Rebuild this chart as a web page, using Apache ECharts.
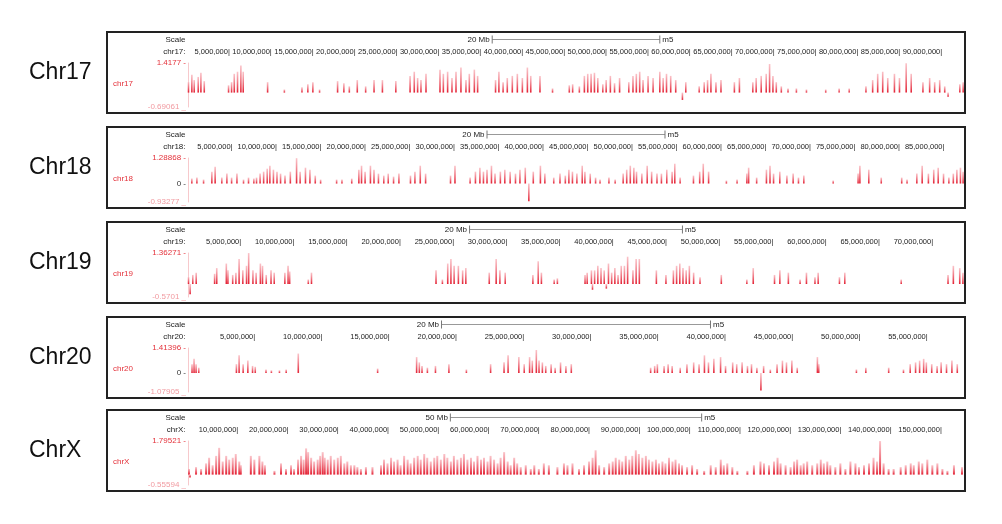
<!DOCTYPE html>
<html>
<head>
<meta charset="utf-8">
<script src="https://cdn.jsdelivr.net/npm/echarts@6/dist/echarts.min.js"></script>
<style>
html,body{margin:0;padding:0;background:#fff}
#main{width:1002px;height:524px}
</style>
</head>
<body>
<div id="main"></div>
<script>
// track meta
const chromNames = ['Chr17', 'Chr18', 'Chr19', 'Chr20', 'ChrX'];
const trackNames = ['chr17', 'chr18', 'chr19', 'chr20', 'chrX'];
const chromLenMb = [92.6, 87.2, 72.9, 57.7, 154.4];
const tickStepMb = [5, 5, 5, 5, 10];
const scaleBarMb = [20, 20, 20, 20, 50];
const yTop = [1.4177, 1.28868, 1.36271, 1.41396, 1.79521];
const yBottom = [-0.69061, -0.93277, -0.5701, -1.07905, -0.55594];
const showZero = [false, true, false, true, false];

// signal, position in Mb / value
const chr17Pos = [0.06,0.46,0.74,1.22,1.54,1.94,4.84,5.2,5.52,5.91,6.31,6.59,9.5,11.5,13.6,14.3,14.9,15.7,17.85,18.6,19.25,20.2,21.2,22.2,23.2,24.8,
  26.5,27.0,27.4,27.8,28.4,30.07,30.47,30.98,31.5,31.98,32.57,33.17,33.57,34.17,34.56,36.7,37.1,37.6,38.1,38.7,39.3,39.9,40.5,40.9,42.0,43.5,
  45.5,45.9,46.7,47.3,47.7,48.1,48.5,48.9,49.5,49.9,50.4,50.9,51.5,52.6,53.1,53.5,53.9,54.3,54.9,55.5,56.3,56.7,57.1,57.6,58.2,59.0,59.4,
  61.0,61.6,62.0,62.4,63.0,63.6,65.2,65.8,67.4,67.8,68.4,69.0,69.4,69.8,70.2,70.8,71.6,72.6,73.8,76.1,77.7,78.9,80.9,81.7,82.3,82.9,83.5,
  84.3,84.9,85.7,86.3,87.7,88.5,89.1,89.7,90.3,90.7,92.1,92.5];
const chr17Val = [0.5,0.85,0.6,0.75,0.95,0.55,0.35,0.5,0.9,1.0,1.3,1.0,0.5,0.15,0.25,0.4,0.5,0.15,0.55,0.45,0.3,0.6,0.3,0.6,0.6,0.55,
  0.8,1.0,0.7,0.6,0.9,1.1,0.9,1.0,0.7,1.0,1.2,0.6,0.9,1.1,0.8,0.6,1.0,0.5,0.7,0.8,0.9,0.7,1.2,0.8,0.8,0.2,
  0.35,0.4,0.3,0.8,0.9,0.9,0.95,0.7,0.4,0.6,0.8,0.45,0.7,0.5,0.8,0.9,1.0,0.6,0.8,0.7,1.0,0.7,0.9,0.8,0.6,-0.35,0.5,
  0.3,0.5,0.6,0.9,0.5,0.6,0.5,0.7,0.5,0.7,0.8,0.9,1.37,0.8,0.5,0.3,0.2,0.2,0.15,0.15,0.2,0.2,0.3,0.6,0.9,1.0,0.7,
  0.9,0.7,1.4,0.9,0.5,0.7,0.5,0.6,0.3,-0.2,0.4,0.5];

const chr18Pos = [0.43,1.0,1.75,2.68,3.05,3.8,4.37,4.9,5.5,6.24,6.8,7.4,7.7,8.1,8.5,8.9,9.2,9.6,10.0,10.4,10.9,11.5,12.2,12.6,13.2,13.7,14.3,14.9,
  16.7,17.3,18.4,19.2,19.5,19.9,20.5,20.9,21.4,22.0,22.5,23.1,23.7,25.0,25.5,26.1,26.7,29.5,30.0,31.7,32.3,32.8,33.2,33.6,34.1,34.5,35.1,35.6,
  36.2,36.8,37.3,37.9,38.3,38.8,39.6,40.1,41.1,41.8,42.4,42.8,43.2,43.7,44.3,44.6,45.2,45.8,46.3,47.3,48.0,48.9,49.3,49.7,50.1,50.4,51.0,51.6,
  52.1,52.7,53.2,53.8,54.4,54.7,55.3,56.8,57.5,57.9,58.5,60.5,61.7,62.8,63.0,63.9,65.0,65.4,65.8,66.5,67.3,68.0,68.6,69.2,72.5,75.3,75.5,76.5,
  77.9,80.2,80.8,81.9,82.5,83.2,83.8,84.3,84.9,85.5,86.0,86.4,86.8,87.1];
const chr18Val = [0.25,0.3,0.2,0.6,0.85,0.3,0.5,0.3,0.5,0.2,0.3,0.25,0.3,0.5,0.6,0.75,0.9,0.7,0.6,0.5,0.4,0.6,1.28,0.6,0.8,0.7,0.4,0.2,
  0.2,0.2,0.25,0.7,0.9,0.6,0.9,0.7,0.5,0.4,0.5,0.35,0.5,0.4,0.6,0.9,0.5,0.4,0.9,0.3,0.6,0.8,0.6,0.7,0.9,0.5,0.6,0.7,
  0.6,0.5,0.7,0.8,-0.9,0.6,0.9,0.5,0.3,0.5,0.4,0.7,0.6,0.5,0.9,0.6,0.5,0.3,0.2,0.3,0.2,0.5,0.7,0.9,0.8,0.6,0.5,0.9,
  0.6,0.5,0.5,0.7,0.6,1.0,0.3,0.4,0.6,1.0,0.6,0.15,0.2,0.5,0.8,0.3,0.7,0.9,0.5,0.6,0.4,0.5,0.3,0.4,0.15,0.5,0.9,0.7,
  0.3,0.3,0.2,0.5,0.9,0.5,0.7,0.8,0.5,0.3,0.5,0.7,0.8,0.6];

const chr19Pos = [0.05,0.2,0.45,0.77,2.5,2.7,3.6,3.75,4.2,4.5,4.8,5.15,5.5,5.7,6.1,6.4,6.8,7.0,7.35,7.8,8.1,9.1,9.4,9.55,11.3,11.6,
  23.3,23.9,24.4,24.7,25.0,25.4,25.8,26.1,28.3,28.95,29.3,29.8,32.4,32.9,33.2,34.4,34.7,37.3,37.5,37.9,38.0,38.2,38.5,38.8,39.1,39.3,39.5,
  39.8,40.1,40.4,40.7,41.0,41.3,41.8,42.1,42.4,44.0,44.9,45.6,45.9,46.2,46.5,46.8,47.1,47.5,48.1,50.1,52.5,53.1,55.1,55.6,56.4,57.5,58.1,
  58.9,59.2,61.2,61.7,67.0,71.4,71.9,72.5,72.8];
const chr19Val = [0.3,-0.45,0.4,0.5,0.45,0.7,0.9,0.6,0.4,0.5,1.1,0.6,0.8,1.36,0.6,0.5,0.9,0.8,0.4,0.6,0.5,0.5,0.8,0.55,0.2,0.5,
  0.6,0.2,0.9,1.1,0.8,0.8,0.6,0.7,0.5,1.1,0.6,0.5,0.4,1.0,0.5,0.2,0.25,0.4,0.5,0.6,-0.25,0.6,0.8,0.7,0.6,-0.2,0.9,
  0.5,0.7,0.4,0.8,0.8,1.2,0.6,1.1,1.1,0.6,0.4,0.6,0.8,0.9,0.7,0.6,0.8,0.5,0.3,0.4,0.2,0.7,0.4,0.6,0.5,0.2,0.5,
  0.3,0.5,0.3,0.5,0.2,0.4,0.8,0.7,0.5];

const chr20Pos = [0.3,0.45,0.6,0.8,3.6,3.8,4.1,4.45,4.8,5.0,5.8,6.2,6.8,7.3,8.2,14.1,17.0,17.2,17.4,17.8,18.4,19.4,20.7,22.5,23.5,23.8,
  24.6,25.0,25.4,25.6,25.9,26.1,26.35,26.6,27.0,27.3,27.7,28.1,28.5,34.4,34.7,34.9,35.4,35.7,36.0,36.6,37.1,37.6,38.0,38.4,38.7,39.1,39.6,
  39.97,40.5,40.8,41.2,41.6,41.9,42.3,42.6,42.8,43.3,43.8,44.2,44.5,44.9,45.3,46.8,46.9,49.7,50.4,52.1,53.2,53.7,54.1,54.4,54.7,54.9,55.3,
  55.7,56.0,56.4,56.8,57.2];
const chr20Val = [0.5,0.8,0.5,0.3,0.5,1.0,0.5,0.7,0.4,0.35,0.2,0.15,0.15,0.2,1.1,0.25,0.9,0.6,0.4,0.3,0.4,0.5,0.2,0.5,0.6,1.0,
  0.9,0.5,0.9,0.7,1.3,0.7,0.6,0.4,0.5,0.3,0.6,0.4,0.5,0.3,0.4,0.5,0.4,0.5,0.4,0.3,0.5,0.6,0.5,1.0,0.6,0.8,0.9,
  0.4,0.6,0.5,0.6,0.4,0.5,0.3,-1.0,0.4,0.2,0.5,0.7,0.6,0.7,0.3,0.9,0.5,0.2,0.3,0.3,0.2,0.5,0.6,0.7,0.8,0.6,0.5,
  0.4,0.6,0.5,0.7,0.5];

const chrXPos = [0.2,0.4,1.6,2.6,3.6,4.2,4.9,5.6,6.2,6.9,7.6,8.2,8.9,9.5,10.2,10.5,12.5,13.2,14.2,14.8,15.3,17.2,18.5,19.5,20.5,21.1,
  21.9,22.5,23.0,23.5,23.9,24.5,25.1,25.8,26.3,26.8,27.2,27.8,28.4,29.1,29.8,30.4,31.1,31.7,32.4,33.1,33.7,34.4,35.4,36.7,
  38.4,39.0,39.7,40.4,41.0,41.7,42.3,43.0,43.7,44.3,45.0,45.7,46.3,47.0,47.6,48.3,49.0,49.6,50.3,51.0,51.6,52.3,52.9,53.6,54.3,54.9,
  55.6,56.3,56.9,57.6,58.3,58.9,59.6,60.2,60.9,61.6,62.2,62.9,63.6,64.2,64.9,65.5,66.2,67.2,68.2,68.9,69.8,70.8,71.8,
  73.5,74.8,75.5,76.5,77.8,78.8,79.8,80.5,81.1,81.8,82.8,83.8,84.5,85.1,85.8,86.4,87.1,87.8,88.4,89.1,89.7,90.4,91.1,91.7,92.4,93.1,
  93.7,94.4,95.0,95.7,96.4,97.0,97.7,98.3,99.3,100.3,101.3,102.7,104.0,105.0,106.0,106.6,107.3,108.3,109.3,111.3,112.6,113.9,114.6,115.6,
  116.6,117.3,117.9,118.9,119.9,120.6,121.2,121.9,122.5,123.2,124.2,125.2,125.9,126.5,127.2,127.8,128.8,129.8,130.8,131.8,132.8,133.5,
  134.5,135.5,136.4,137.1,137.7,138.4,139.4,140.4,141.8,142.8,143.8,144.4,145.4,146.1,147.1,148.1,149.1,150.1,151.1,152.4,154.0];
const chrXVal = [0.3,-0.15,0.4,0.3,0.6,0.9,0.5,1.0,1.43,0.7,1.0,0.8,0.9,1.1,0.7,0.5,1.0,0.8,1.0,0.7,0.5,0.2,0.6,0.3,0.5,0.3,
  0.8,1.0,0.8,1.4,1.2,0.9,0.7,0.8,1.0,1.2,0.9,0.8,1.0,0.8,0.9,1.0,0.6,0.7,0.5,0.5,0.4,0.3,0.4,0.4,
  0.5,0.8,0.6,0.9,0.7,0.8,0.5,1.0,0.8,0.6,0.9,1.0,0.8,1.1,0.9,0.7,0.9,1.0,0.8,1.1,0.9,0.7,1.0,0.8,0.9,1.1,
  0.8,0.9,0.7,1.0,0.8,0.9,0.7,1.0,0.8,0.6,0.9,1.2,0.7,0.5,0.9,0.6,0.4,0.5,0.3,0.5,0.3,0.6,0.5,
  0.4,0.6,0.5,0.6,0.3,0.5,0.7,0.9,1.3,0.5,0.4,0.6,0.7,0.9,0.8,0.7,1.0,0.8,1.0,1.3,1.1,0.9,1.0,0.8,0.7,0.8,
  0.6,0.7,0.6,0.9,0.7,0.8,0.6,0.5,0.4,0.5,0.3,0.2,0.5,0.4,0.8,0.5,0.6,0.4,0.2,0.2,0.5,0.7,0.6,0.5,
  0.7,0.9,0.6,0.5,0.4,0.7,0.8,0.5,0.6,0.7,0.5,0.6,0.8,0.6,0.7,0.5,0.4,0.6,0.3,0.7,0.6,0.4,
  0.5,0.6,0.9,0.7,1.79,0.6,0.3,0.3,0.4,0.5,0.6,0.5,0.7,0.6,0.8,0.5,0.6,0.3,0.2,0.5,0.4];

const posLists = [chr17Pos, chr18Pos, chr19Pos, chr20Pos, chrXPos];
const valLists = [chr17Val, chr18Val, chr19Val, chr20Val, chrXVal];

const FONT = '"Liberation Sans", Arial, Helvetica, sans-serif';
const RED = '#e4323b';
const PINK = '#f19aa0';
const panelTop = [32, 127, 222, 317, 410];
const barW = [1.6, 1.6, 1.6, 1.6, 2];
const N = chromNames.length;

// data grids come first (index i), scale-bar grids after (index N + i)
const dataGrids = [], dataX = [], dataY = [], dataSeries = [];
const scaleGrids = [], scaleX = [], scaleY = [], scaleSeries = [];
const graphics = [];

chromNames.forEach((name, i) => {
    const T = panelTop[i];
    const maxBp = chromLenMb[i] * 1e6;
    const step = tickStepMb[i] * 1e6;
    const yMax = yTop[i], yMin = yBottom[i];

    // signal track
    dataGrids.push({ left: 188, width: 776, top: T + 31, height: 44 });
    dataX.push({
        type: 'value', gridIndex: i, min: 0, max: maxBp, interval: step, position: 'top',
        axisLine: { show: false }, axisTick: { show: false }, splitLine: { show: false },
        axisLabel: {
            margin: 7, fontSize: 7.5, fontFamily: FONT, color: '#222', align: 'right',
            formatter: v => (v > 0 && v % step === 0 && v < maxBp) ? v.toLocaleString('en-US') + '|' : ''
        }
    });
    const yVals = showZero[i] ? [yMin, 0, yMax] : [yMin, yMax];
    dataY.push({
        type: 'value', gridIndex: i, min: yMin, max: yMax,
        axisLine: { show: true, lineStyle: { color: '#f7c9cc', width: 1 } },
        axisTick: { show: false }, splitLine: { show: false },
        axisLabel: {
            margin: 2, fontSize: 8, fontFamily: FONT, customValues: yVals,
            formatter: v => {
                if (Math.abs(v - yMax) < 1e-9) return '{t|' + yMax + ' -}';
                if (Math.abs(v) < 1e-9) return '{z|0 -}';
                return '{b|' + yMin + ' _}';
            },
            rich: {
                t: { color: RED, fontSize: 8, fontFamily: FONT },
                z: { color: '#333', fontSize: 8, fontFamily: FONT },
                b: { color: PINK, fontSize: 8, fontFamily: FONT }
            }
        }
    });
    dataSeries.push({
        type: 'bar', xAxisIndex: i, yAxisIndex: i, barWidth: barW[i], silent: true,
        data: posLists[i].map((p, k) => [p * 1e6, valLists[i][k]]),
        itemStyle: {
            color: {
                type: 'linear', x: 0, y: 0, x2: 0, y2: 1,
                colorStops: [
                    { offset: 0, color: 'rgba(248,170,178,0.7)' },
                    { offset: 1, color: 'rgba(226,20,40,0.95)' }
                ]
            }
        }
    });

    // scale row
    const g = N + i;
    const half = scaleBarMb[i] * 1e6 / 2;
    scaleGrids.push({ left: 188, width: 776, top: T + 4, height: 7 });
    scaleX.push({ type: 'value', gridIndex: g, min: 0, max: maxBp, show: false });
    scaleY.push({ type: 'value', gridIndex: g, min: -1, max: 1, show: false });
    scaleSeries.push({
        type: 'line', xAxisIndex: g, yAxisIndex: g, silent: true,
        symbol: 'rect', symbolSize: [1, 8],
        itemStyle: { color: '#777' },
        lineStyle: { color: '#999', width: 1 },
        data: [
            { value: [maxBp / 2 - half, 0], label: { show: true, position: 'left', distance: 2, formatter: scaleBarMb[i] + ' Mb' } },
            { value: [maxBp / 2 + half, 0], label: { show: true, position: 'right', distance: 2, formatter: 'm5' } }
        ],
        label: { fontSize: 8, fontFamily: FONT, color: '#222' }
    });

    // frame and text
    graphics.push(
        { type: 'rect', shape: { x: 107, y: T, width: 858, height: 81 }, style: { fill: 'none', stroke: '#222', lineWidth: 2 } },
        { type: 'text', x: 29, y: T + 41, style: { text: name, fill: '#111', font: '23px ' + FONT, verticalAlign: 'middle', align: 'left' } },
        { type: 'text', x: 185.5, y: T + 8, style: { text: 'Scale', fill: '#222', font: '8px ' + FONT, verticalAlign: 'middle', align: 'right' } },
        { type: 'text', x: 185.5, y: T + 19.5, style: { text: trackNames[i] + ':', fill: '#222', font: '8px ' + FONT, verticalAlign: 'middle', align: 'right' } },
        { type: 'text', x: 113, y: T + 52, style: { text: trackNames[i], fill: RED, font: '8px ' + FONT, verticalAlign: 'middle', align: 'left' } }
    );
});

const chart = echarts.init(document.getElementById('main'));
chart.setOption({
    animation: false,
    backgroundColor: '#fff',
    grid: dataGrids.concat(scaleGrids),
    xAxis: dataX.concat(scaleX),
    yAxis: dataY.concat(scaleY),
    series: dataSeries.concat(scaleSeries),
    graphic: graphics
});
</script>
</body>
</html>
